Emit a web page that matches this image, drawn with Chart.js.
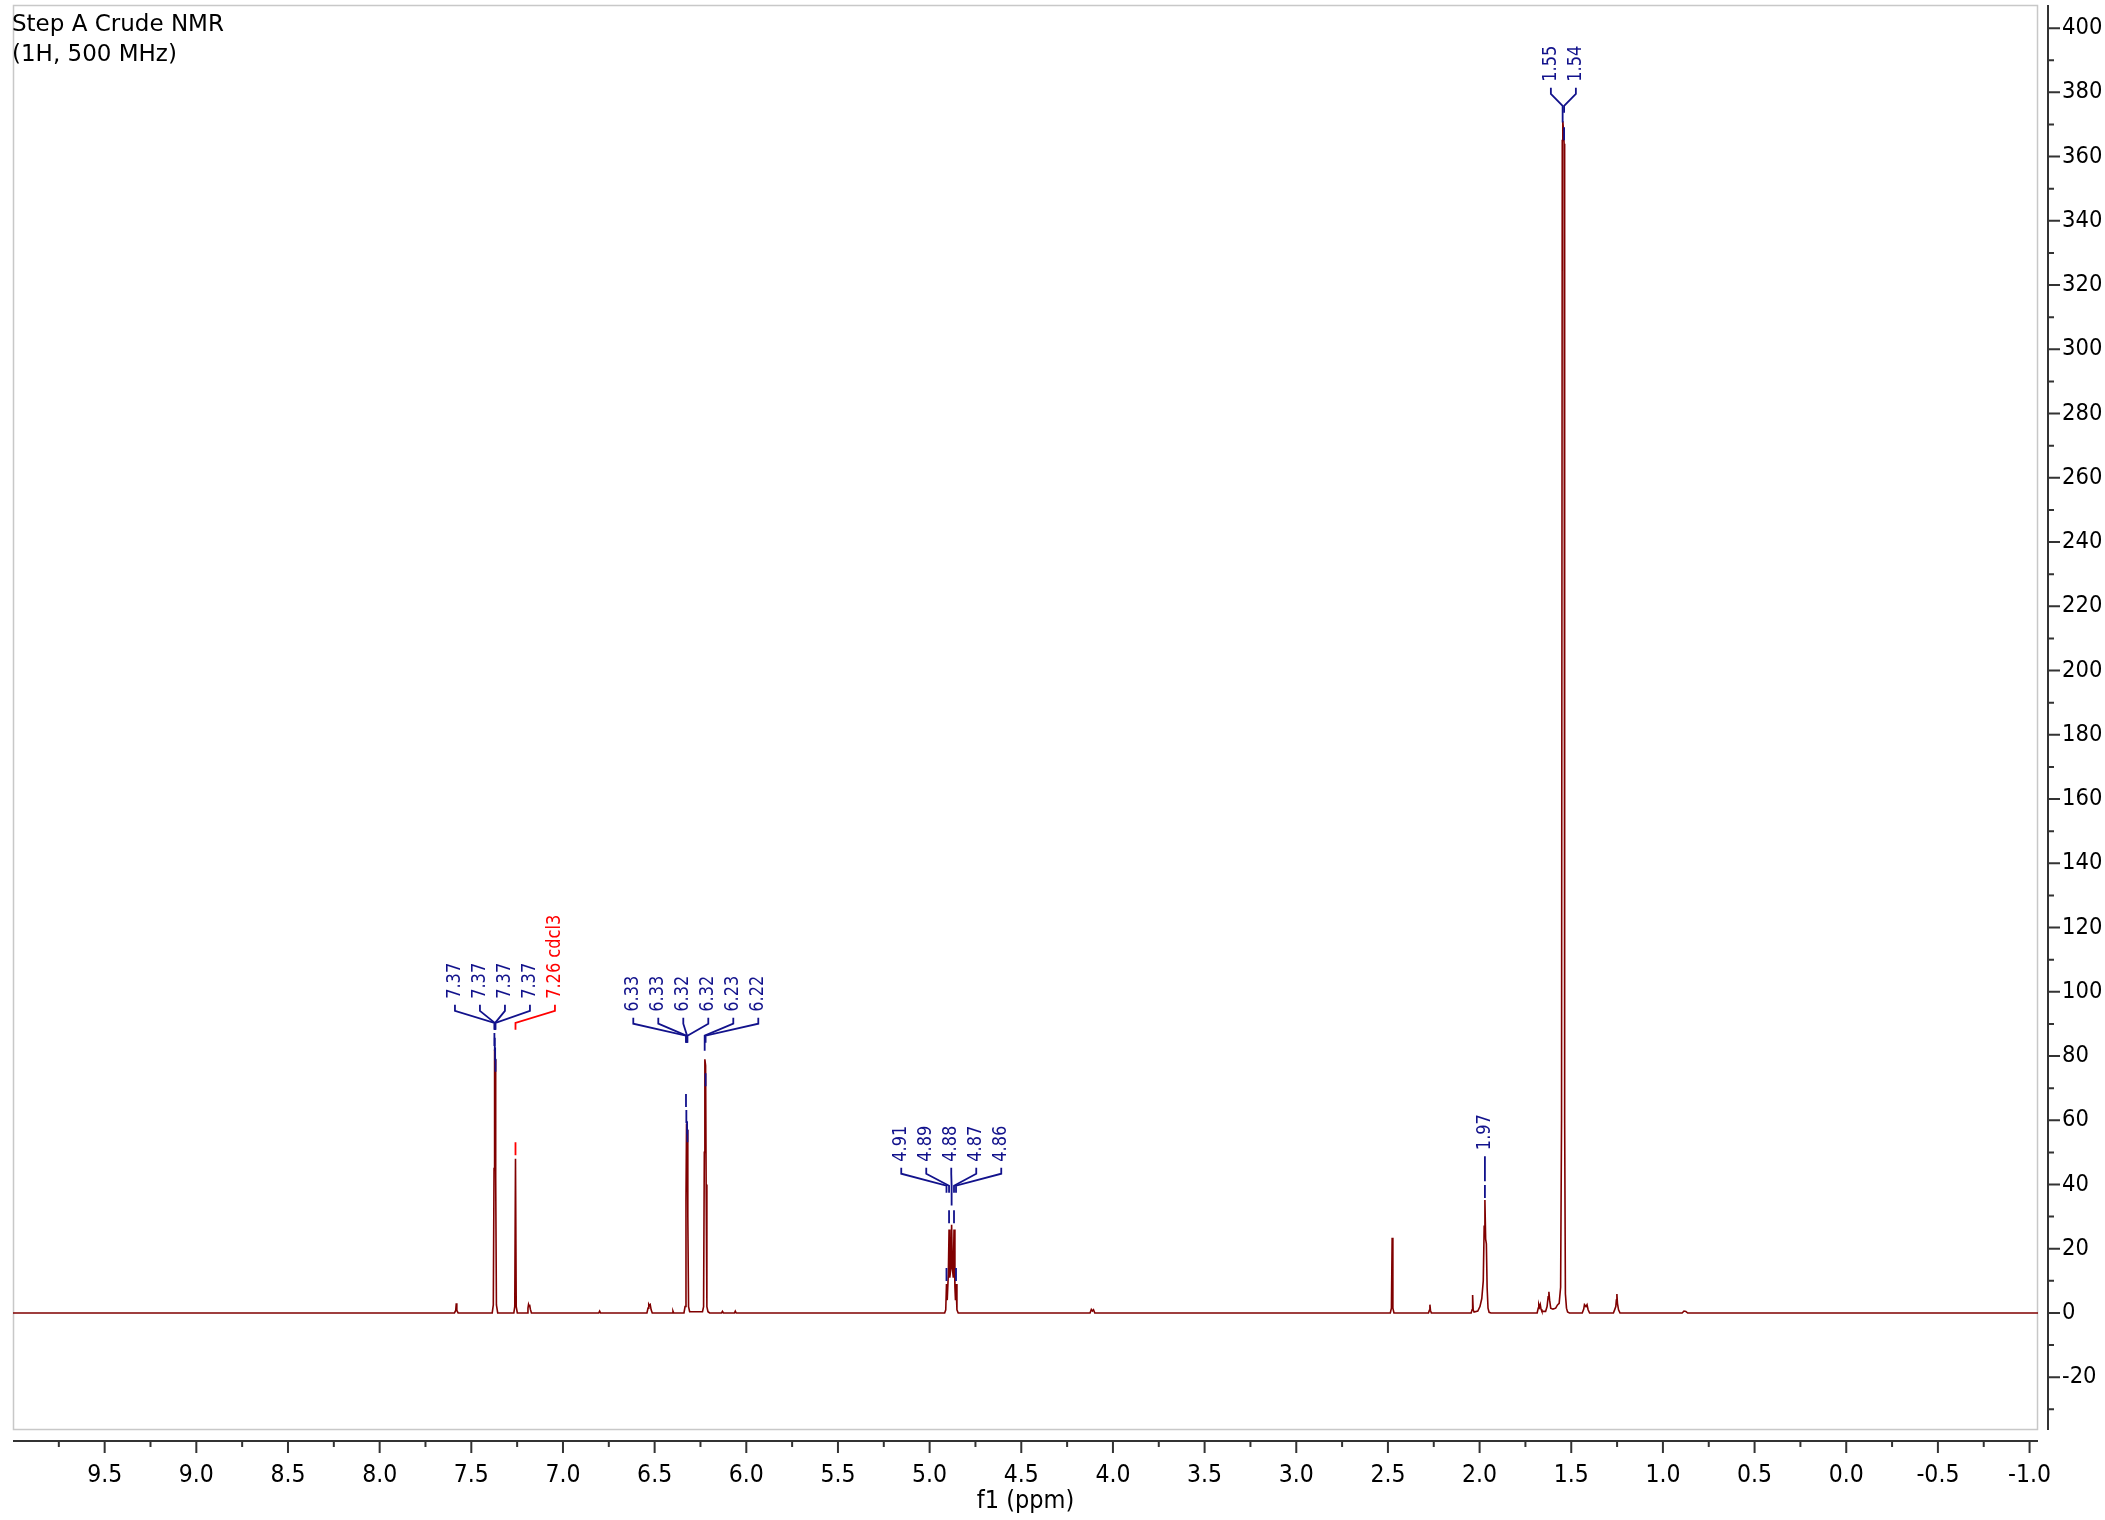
<!DOCTYPE html>
<html>
<head>
<meta charset="utf-8">
<title>Step A Crude NMR</title>
<script src="https://cdn.jsdelivr.net/npm/chart.js@4/dist/chart.umd.min.js"></script>
<style>
  html, body { margin: 0; padding: 0; background: #ffffff; }
  canvas { display: block; }
</style>
</head>
<body>
<canvas id="nmr" width="2105" height="1520"></canvas>
<script>
// 1H trace, high field to low field: chemical shift (ppm) and intensity, row by row per signal
const tracePpm = [
  10.0,
  7.592, 7.585, 7.582, 7.579, 7.572,
  7.386, 7.380, 7.376, 7.373, 7.370, 7.367, 7.363, 7.356,
  7.268, 7.263, 7.259, 7.255, 7.249,
  7.196, 7.191, 7.188, 7.185, 7.182, 7.178, 7.172,
  6.805, 6.800, 6.795,
  6.542, 6.536, 6.532, 6.528, 6.524, 6.519, 6.513,
  6.404, 6.400, 6.396,
  6.340, 6.334, 6.329, 6.326, 6.322, 6.319, 6.315, 6.309,
  6.239, 6.233, 6.229, 6.226, 6.222, 6.219, 6.215, 6.209, 6.200,
  6.135, 6.130, 6.125,
  6.065, 6.060, 6.055,
  4.918, 4.912, 4.908, 4.904, 4.898, 4.894, 4.890, 4.884, 4.880, 4.876, 4.871, 4.867, 4.862, 4.859, 4.856, 4.851, 4.844,
  4.125, 4.118, 4.112, 4.106, 4.099,
  2.487, 2.481, 2.477, 2.473, 2.467,
  2.279, 2.274, 2.271, 2.268, 2.263,
  2.046, 2.041, 2.038, 2.035, 2.030,
  2.010, 1.998, 1.988, 1.980, 1.975, 1.971, 1.967, 1.963, 1.959, 1.954, 1.948, 1.938,
  1.686, 1.680, 1.677, 1.673, 1.669, 1.665, 1.660,
  1.640, 1.632, 1.626, 1.622, 1.618, 1.612, 1.600, 1.585, 1.575,
  1.566, 1.558, 1.553, 1.549, 1.546, 1.542, 1.539, 1.536, 1.532, 1.526, 1.520, 1.510,
  1.440, 1.432, 1.428, 1.420, 1.414, 1.408, 1.400,
  1.270, 1.262, 1.257, 1.254, 1.251, 1.248, 1.242, 1.234,
  0.895, 0.885, 0.875, 0.865,
  -1.046
];
const traceIntensity = [
  0,
  0, 0.8, 3.0, 0.8, 0,
  0, 2.5, 45, 82, 79, 42, 2.5, 0,
  0, 2, 48, 2, 0,
  0, 1.5, 2.6, 2.0, 2.6, 1.2, 0,
  0, 0.6, 0,
  0, 1.5, 2.7, 2.3, 2.6, 1.0, 0,
  0, 0.6, 0,
  0, 2, 35, 59, 57, 30, 2, 0.4,
  0.4, 2, 50, 79, 77, 40, 2, 0.4, 0,
  0, 0.5, 0,
  0, 0.6, 0,
  0, 1, 9, 4, 12, 26, 11, 14, 27.5, 14, 11, 26, 8, 4, 9, 1, 0,
  0, 1.1, 0.6, 1.0, 0,
  0, 1.5, 23.4, 1.5, 0,
  0, 0.8, 2.6, 0.8, 0,
  0, 1, 5.6, 1, 0.3,
  0.6, 2, 4.5, 10, 27, 35.2, 23, 21.5, 8, 1.5, 0.2, 0,
  0, 1.5, 2.6, 1.8, 2.6, 1.2, 0.5,
  0.5, 2, 5, 6.6, 4, 1.5, 1.2, 1.5, 2.5,
  3, 8, 60, 365, 371, 368, 364, 60, 6, 1.5, 0.3, 0,
  0, 1.2, 2.6, 2.0, 2.6, 1.0, 0,
  0, 1.2, 2, 4, 5.9, 3, 1, 0,
  0, 0.6, 0.5, 0,
  0
];

// picked lines: shift, line height, label cluster and note (solvent)
const pickPpm = [7.374, 7.372, 7.370, 7.368, 7.259,
                 6.329, 6.327, 6.323, 6.321, 6.227, 6.222,
                 4.908, 4.894, 4.880, 4.867, 4.856,
                 1.971,
                 1.547, 1.539];
const pickHeight = [82.5, 81, 78, 74.5, 48.5,
                    63.5, 58.5, 55, 52.5, 81, 70,
                    9.3, 27.3, 32.8, 27.3, 9.3,
                    35.2,
                    370, 364.5];
const pickCluster = [0, 0, 0, 0, 0,
                     1, 1, 1, 1, 1, 1,
                     2, 2, 2, 2, 2,
                     3,
                     4, 4];
const pickNote = ['', '', '', '', 'cdcl3',
                  '', '', '', '', '', '',
                  '', '', '', '', '',
                  '',
                  '', ''];
// intensity level at which each cluster's label text ends
const clusterLevel = [97.8, 93.8, 47.1, 50.7, 383.3];

// axis ticks
const xTicks = [9.5, 9.0, 8.5, 8.0, 7.5, 7.0, 6.5, 6.0, 5.5, 5.0, 4.5, 4.0, 3.5, 3.0, 2.5, 2.0, 1.5, 1.0, 0.5, 0.0, -0.5, -1.0];
const yTicks = [-20, 0, 20, 40, 60, 80, 100, 120, 140, 160, 180, 200, 220, 240, 260, 280, 300, 320, 340, 360, 380, 400];

const titleLines = ['Step A Crude NMR', '(1H, 500 MHz)'];
const axisTitle = 'f1 (ppm)';

// styling
const TRACE = '#800000';
const NAVY = '#12128c';
const SOLVENT = '#ff0000';
const AXIS = '#333333';
const FRAME = '#c8c8c8';
const AXIS_GAP_X = 10;   // y axis sits this far right of the plot frame
const AXIS_GAP_Y = 11;   // x axis sits this far below the plot frame
const TICK_FONT = 'DejaVu Sans Condensed';
const LABEL_FONT = '20px "DejaVu Sans Condensed", sans-serif';
const LABEL_SQUEEZE = 0.9;  // labels are set slightly narrower along their run
const LABEL_STEP = 25;

// frame behind the trace, axes and ticks drawn offset from it
const frameAndAxes = {
  id: 'frameAndAxes',
  beforeDatasetsDraw(chart) {
    const { ctx, chartArea: a } = chart;
    ctx.save();
    ctx.strokeStyle = FRAME;
    ctx.lineWidth = 1.5;
    ctx.strokeRect(a.left + 0.5, a.top + 0.5, a.width - 1, a.height - 1);
    ctx.restore();
  },
  afterDraw(chart) {
    const { ctx, chartArea: a, scales: { x, y } } = chart;
    const ax = a.right + AXIS_GAP_X;
    const ay = a.bottom + AXIS_GAP_Y;
    ctx.save();
    ctx.strokeStyle = AXIS;
    ctx.lineWidth = 2;
    ctx.beginPath();
    ctx.moveTo(ax, a.top);
    ctx.lineTo(ax, a.bottom);
    ctx.moveTo(a.left, ay);
    ctx.lineTo(a.right, ay);
    // y: majors every 20, minors every 10
    for (let k = Math.ceil(y.min / 10); k * 10 <= y.max; k++) {
      const p = y.getPixelForValue(k * 10);
      const len = (k % 2 === 0) ? 12 : 6;
      ctx.moveTo(ax, p);
      ctx.lineTo(ax + len, p);
    }
    // x: majors every 0.5 ppm, minors every 0.25 ppm
    for (let k = Math.ceil(x.min * 4); k / 4 <= x.max; k++) {
      const p = x.getPixelForValue(k / 4);
      if (p < a.left + 2 || p > a.right - 2) continue;
      const len = (k % 2 === 0) ? 12 : 6;
      ctx.moveTo(p, ay);
      ctx.lineTo(p, ay + len);
    }
    ctx.stroke();

    // spectrum title, top left
    ctx.fillStyle = '#000000';
    ctx.font = '23px "DejaVu Sans"';
    ctx.textAlign = 'left';
    ctx.textBaseline = 'alphabetic';
    titleLines.forEach((t, i) => ctx.fillText(t, a.left - 1, a.top + 25.5 + i * 30));
    ctx.restore();
  }
};

// peak-pick labels: rotated shift values joined to their lines by brackets
const peakLabels = {
  id: 'peakLabels',
  afterDatasetsDraw(chart) {
    const { ctx, scales: { x, y } } = chart;
    ctx.save();
    ctx.font = LABEL_FONT;
    ctx.lineWidth = 1.8;
    clusterLevel.forEach((level, c) => {
      const idx = pickCluster.map((g, i) => (g === c ? i : -1)).filter(i => i >= 0);
      const lineX = idx.map(i => x.getPixelForValue(pickPpm[i]));
      const mid = (Math.min(...lineX) + Math.max(...lineX)) / 2;
      const textEnd = y.getPixelForValue(level);
      idx.forEach((i, k) => {
        const lx = mid + (k - (idx.length - 1) / 2) * LABEL_STEP;
        const px = lineX[k];
        const color = pickNote[i] ? SOLVENT : NAVY;
        const text = pickPpm[i].toFixed(2) + (pickNote[i] ? ' ' + pickNote[i] : '');
        ctx.fillStyle = color;
        ctx.strokeStyle = color;
        ctx.save();
        ctx.translate(lx, textEnd);
        ctx.rotate(-Math.PI / 2);
        ctx.scale(LABEL_SQUEEZE, 1);
        ctx.textAlign = 'left';
        ctx.textBaseline = 'middle';
        ctx.fillText(text, 0, 0);
        ctx.restore();
        const top = y.getPixelForValue(pickHeight[i]);
        ctx.beginPath();
        ctx.moveTo(lx, textEnd + 6);
        ctx.lineTo(lx, textEnd + 12);
        ctx.lineTo(px, textEnd + 24);
        ctx.lineTo(px, textEnd + 31);
        ctx.moveTo(px, top - 15);
        ctx.lineTo(px, top - 2);
        ctx.stroke();
      });
    });
    ctx.restore();
  }
};

new Chart(document.getElementById('nmr'), {
  type: 'line',
  data: {
    datasets: [{
      data: tracePpm.map((p, i) => ({ x: p, y: traceIntensity[i] })),
      borderColor: TRACE,
      borderWidth: 1.6,
      pointRadius: 0,
      tension: 0,
      fill: false
    }]
  },
  options: {
    responsive: false,
    animation: false,
    devicePixelRatio: 1,
    layout: { padding: { left: 13, top: 5, right: 0, bottom: 0 } },
    plugins: {
      legend: { display: false },
      tooltip: { enabled: false },
      title: { display: false }
    },
    scales: {
      x: {
        type: 'linear',
        reverse: true,
        min: -1.046,
        max: 10.0,
        bounds: 'data',
        grid: { display: false, drawTicks: false },
        border: { display: false },
        ticks: {
          autoSkip: false,
          maxRotation: 0,
          padding: 31,
          color: '#000000',
          font: { family: TICK_FONT, size: 24.5 },
          callback: v => Number(v).toFixed(1)
        },
        afterBuildTicks: s => { s.ticks = xTicks.map(v => ({ value: v })); },
        afterFit: s => { s.height = 90; s.paddingLeft = 0; s.paddingRight = 0; },
        title: {
          display: true,
          text: axisTitle,
          color: '#000000',
          font: { family: TICK_FONT, size: 25 },
          padding: { top: 0, bottom: 4 }
        }
      },
      y: {
        type: 'linear',
        position: 'right',
        min: -36.43,
        max: 407.2,
        bounds: 'data',
        grid: { display: false, drawTicks: false },
        border: { display: false },
        ticks: {
          autoSkip: false,
          padding: 24,
          color: '#000000',
          font: { family: TICK_FONT, size: 23.5 },
          callback: v => String(Math.round(v))
        },
        afterBuildTicks: s => { s.ticks = yTicks.map(v => ({ value: v })); },
        afterFit: s => { s.width = 67; s.paddingTop = 0; s.paddingBottom = 0; }
      }
    }
  },
  plugins: [frameAndAxes, peakLabels]
});
</script>
</body>
</html>
